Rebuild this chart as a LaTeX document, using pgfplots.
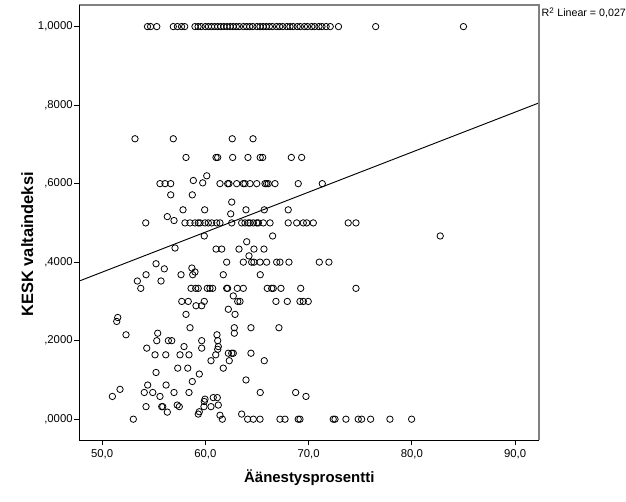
\documentclass[border=0pt]{standalone}
\usepackage{fontspec}
\setmainfont{Liberation Sans}
\usepackage{pgfplots}
\pgfplotsset{compat=1.18}
\usepackage{pgfplotstable}
\definecolor{framegray}{RGB}{128,128,128}
\pgfplotstableread{
x y
54.4 1
54.7 1
55.3 1
56.9 1
57.3 1
57.7 1
58.0 1
59.0 1
59.3 1
59.6 1
60.0 1
60.3 1
60.6 1
60.9 1
61.2 1
61.5 1
61.8 1
62.1 1
62.4 1
62.7 1
63.0 1
63.3 1
63.7 1
64.0 1
64.3 1
64.6 1
65.0 1
65.3 1
65.6 1
65.9 1
66.2 1
66.5 1
66.9 1
67.2 1
67.5 1
67.9 1
68.2 1
68.5 1
68.9 1
69.2 1
69.6 1
69.9 1
70.3 1
70.6 1
71.0 1
71.3 1
71.7 1
72.1 1
72.9 1
76.5 1
85.0 1
53.19 0.7143
56.90 0.7143
62.61 0.7143
64.62 0.7143
58.13 0.6667
61.04 0.6667
61.20 0.6667
62.65 0.6667
64.13 0.6667
65.32 0.6667
65.56 0.6667
68.33 0.6667
69.33 0.6667
60.14 0.620
58.84 0.608
59.75 0.602
55.61 0.6
56.10 0.6
56.65 0.6
61.42 0.6
62.17 0.6
62.29 0.6
63.04 0.6
63.68 0.6
63.84 0.6
64.33 0.6
64.98 0.6
65.78 0.6
65.94 0.6
66.10 0.6
66.75 0.6
69.00 0.6
71.33 0.6
56.65 0.5714
58.74 0.5714
62.56 0.553
57.84 0.5333
59.94 0.5333
63.94 0.5333
65.71 0.5333
68.03 0.5333
62.46 0.523
56.32 0.516
56.97 0.506
54.23 0.5
58.03 0.5
58.52 0.5
59.00 0.5
59.32 0.5
59.49 0.5
59.97 0.5
60.29 0.5
60.62 0.5
61.10 0.5
61.42 0.5
62.56 0.5
63.52 0.5
63.84 0.5
64.16 0.5
64.33 0.5
64.65 0.5
64.98 0.5
65.14 0.5
65.62 0.5
66.27 0.5
68.03 0.5
68.85 0.5
69.49 0.5
69.82 0.5
70.46 0.5
73.84 0.5
74.59 0.5
59.90 0.4667
66.52 0.4667
82.75 0.4667
64.01 0.452
57.07 0.436
61.04 0.4333
61.59 0.4333
63.26 0.4333
64.71 0.4333
65.68 0.4333
64.23 0.416
62.07 0.4
63.68 0.4
64.49 0.4
64.71 0.4
65.30 0.4
65.94 0.4
66.91 0.4
67.23 0.4
68.10 0.4
71.04 0.4
71.97 0.4
55.23 0.396
56.03 0.383
58.70 0.385
59.00 0.375
54.26 0.368
57.65 0.368
58.78 0.368
61.74 0.368
65.32 0.368
53.42 0.352
55.71 0.352
53.75 0.3333
58.62 0.3333
59.07 0.3333
59.32 0.3333
60.19 0.3333
60.45 0.3333
60.71 0.3333
62.07 0.3333
62.16 0.3333
63.10 0.3333
63.68 0.3333
66.00 0.3333
66.43 0.3333
66.58 0.3333
67.33 0.3333
69.24 0.3333
74.59 0.3333
62.71 0.314
57.72 0.3
58.35 0.3
59.90 0.3
63.14 0.3
63.36 0.3
66.84 0.3
67.94 0.3
69.17 0.3
69.49 0.3
69.97 0.3
59.10 0.289
59.65 0.289
62.23 0.280
58.13 0.267
62.88 0.267
51.52 0.259
51.42 0.249
58.52 0.233
62.81 0.233
64.42 0.233
67.13 0.233
55.39 0.219
62.81 0.219
52.32 0.215
61.13 0.215
55.30 0.2
56.42 0.2
56.75 0.2
59.65 0.2
61.20 0.2
57.94 0.185
61.26 0.185
54.33 0.181
59.65 0.181
61.20 0.178
62.23 0.168
62.56 0.168
62.71 0.168
64.42 0.168
55.13 0.164
56.17 0.164
57.55 0.164
58.42 0.164
61.01 0.164
60.55 0.149
62.32 0.149
65.71 0.149
57.33 0.130
58.30 0.130
61.74 0.130
55.23 0.119
59.42 0.115
63.94 0.100
58.74 0.096
54.42 0.087
56.20 0.087
51.74 0.076
54.09 0.068
54.91 0.068
56.97 0.068
58.42 0.068
65.32 0.068
68.75 0.068
51.00 0.058
55.61 0.058
69.75 0.058
60.77 0.055
61.16 0.055
59.97 0.051
59.90 0.045
57.28 0.036
61.26 0.036
54.26 0.032
55.78 0.032
55.88 0.032
57.48 0.032
59.87 0.032
60.55 0.032
56.32 0.018
59.42 0.019
59.32 0.013
63.52 0.013
61.42 0.010
53.03 0
61.65 0
64.10 0
64.65 0
65.30 0
67.23 0
67.72 0
69.00 0
69.17 0
72.39 0
72.56 0
73.62 0
74.81 0
75.14 0
76.01 0
77.88 0
79.98 0
}\scatterdata
\pgfplotstableread{
x y
47.8 0.352
92.35 0.806
}\fitline
\begin{document}
\begin{tikzpicture}
\begin{axis}[
  scale only axis, width=345pt, height=326.25pt,
  xmin=47.8, xmax=92.35, ymin=-0.053, ymax=1.055,
  axis line style={draw=none},
  tick pos=left, tick align=outside, major tick length=3.75pt,
  tick style={black, line width=0.6pt},
  xtick={50,60,70,80,90},
  xticklabels={{50,0},{60,0},{70,0},{80,0},{90,0}},
  ytick={0,0.2,0.4,0.6,0.8,1},
  yticklabels={{,0000},{,2000},{,4000},{,6000},{,8000},{1,0000}},
  ticklabel style={font=\fontsize{8.5}{10}\selectfont},
  yticklabel style={xshift=2.25pt},
  xlabel={Äänestysprosentti},
  xlabel style={font=\fontsize{11.2}{13}\selectfont\bfseries, at={(axis description cs:0.5,-0.087)}, anchor=center},
  ylabel={KESK valtaindeksi},
  ylabel style={font=\fontsize{12.3}{14}\selectfont\bfseries, at={(axis description cs:-0.113,0.45)}, anchor=center},
  clip=false,
]
\addplot[only marks, mark=o, mark size=2.4pt, black, mark options={line width=0.6pt}] table[x=x,y=y] {\scatterdata};
\addplot[black, line width=0.7pt] table[x=x,y=y] {\fitline};
\coordinate (SW) at (rel axis cs:0,0);
\coordinate (NW) at (rel axis cs:0,1);
\coordinate (NE) at (rel axis cs:1,1);
\coordinate (SE) at (rel axis cs:1,0);
\end{axis}
\draw[framegray, line width=1.5pt] (NW) -- (NE) -- (SE);
\draw[black, line width=0.75pt] (NW) -- (SW) -- (SE);
\node[anchor=west, inner sep=0pt, font=\fontsize{8}{9.6}\selectfont] at ([xshift=1.5pt,yshift=-6pt]NE) {R\textsuperscript{2} Linear = 0,027};
\pgfresetboundingbox
\path[use as bounding box] ([xshift=-59.5pt,yshift=-45.75pt]SW) rectangle ([xshift=65pt,yshift=3.75pt]NE);
\end{tikzpicture}
\end{document}
